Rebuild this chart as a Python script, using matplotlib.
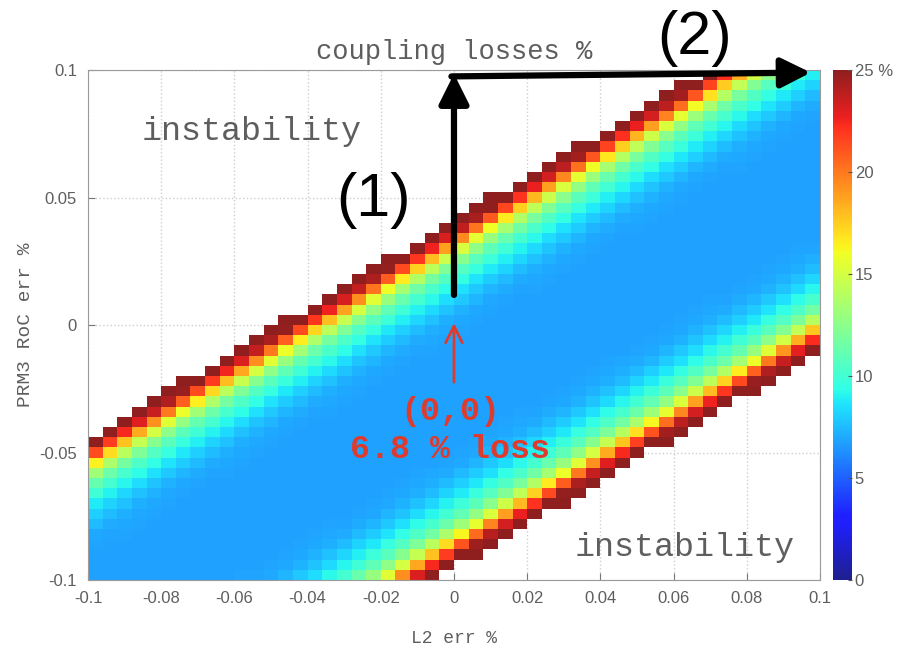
import numpy as np
import matplotlib.pyplot as plt
from matplotlib.colors import ListedColormap

# scan grid (cell edges) for L2 and PRM3 RoC errors, in %
l2_err = np.linspace(-0.1, 0.1, 51)
prm3_err = np.linspace(-0.1, 0.1, 51)

# stability boundaries (where the band is cut off)
upper_edge_x = [-0.1, 0.1]
upper_edge_y = [-0.044, 0.127]
lower_edge_x = [-0.1, 0.1]
lower_edge_y = [-0.180, -0.011]

# coupling loss vs. distance (in cells) from a stability boundary
edge_dist = [0.0, 1.0, 2.0, 3.0, 4.0, 5.0, 6.0, 7.0, 8.0, 9.0, 10.0, 12.0]
edge_loss = [25.0, 25.0, 21.0, 16.0, 13.0, 11.0, 9.8, 8.8, 8.0, 7.4, 7.0, 6.8]

x_ticks = [-0.1, -0.08, -0.06, -0.04, -0.02, 0, 0.02, 0.04, 0.06, 0.08, 0.1]
x_ticklabels = ['-0.1', '-0.08', '-0.06', '-0.04', '-0.02', '0',
                '0.02', '0.04', '0.06', '0.08', '0.1']
y_ticks = [-0.1, -0.05, 0, 0.05, 0.1]
y_ticklabels = ['-0.1', '-0.05', '0', '0.05', '0.1']
cb_ticks = [0, 5, 10, 15, 20, 25]
cb_ticklabels = ['0', '5', '10', '15', '20', '25 %']

# build the loss map from the boundaries and the edge profile
xc = (l2_err[:-1] + l2_err[1:]) / 2
yc = (prm3_err[:-1] + prm3_err[1:]) / 2
X, Y = np.meshgrid(xc, yc)
cell = prm3_err[1] - prm3_err[0]
d_up = (np.interp(X, upper_edge_x, upper_edge_y) - Y) / cell
d_lo = (Y - np.interp(X, lower_edge_x, lower_edge_y)) / cell
d = np.minimum(d_up, d_lo)
loss = np.interp(d, edge_dist, edge_loss)
loss = np.ma.masked_where(d <= 0, loss)

# slightly washed-out jet, like the screenshot
jet = plt.get_cmap('jet')(np.linspace(0, 1, 256))
jet[:, :3] = jet[:, :3] * 0.88 + 0.12
cmap = ListedColormap(jet)

mono = 'Liberation Mono'
sans = 'Liberation Sans'
grey = '#5e5e5e'

fig = plt.figure(figsize=(8.98, 6.52), dpi=100)
ax = fig.add_axes([0.098, 0.1104, 0.8151, 0.7822])
cax = fig.add_axes([0.9276, 0.1104, 0.0212, 0.7822])

mesh = ax.pcolormesh(l2_err, prm3_err, loss, cmap=cmap, vmin=0, vmax=25)
ax.set_xlim(-0.1, 0.1)
ax.set_ylim(-0.1, 0.1)
ax.set_axisbelow(True)
ax.grid(True, color='#cfcfcf', linestyle=':', linewidth=1)
ax.set_xticks(x_ticks)
ax.set_xticklabels(x_ticklabels)
ax.set_yticks(y_ticks)
ax.set_yticklabels(y_ticklabels)
ax.tick_params(direction='in', length=5, color='#777777', labelcolor=grey,
               labelsize=12, pad=8)
for lab in ax.get_xticklabels() + ax.get_yticklabels():
    lab.set_fontfamily(sans)
for s in ax.spines.values():
    s.set_color('#9a9a9a')

ax.set_title('coupling losses %', family=mono, fontsize=19.5, color=grey, pad=8)
ax.set_xlabel('L2 err %', family=mono, fontsize=13, color=grey, labelpad=17)
ax.set_ylabel('PRM3 RoC err %', family=mono, fontsize=14, color=grey, labelpad=4)

cb = fig.colorbar(mesh, cax=cax, ticks=cb_ticks)
cb.set_ticklabels(cb_ticklabels)
cb.outline.set_visible(False)
cax.tick_params(direction='in', length=3, color='#555555', labelcolor=grey,
                labelsize=12, pad=2)
for lab in cax.get_yticklabels():
    lab.set_fontfamily(sans)

ax.text(-0.0552, 0.0757, 'instability', family=mono, fontsize=24, color=grey,
        ha='center', va='center')
ax.text(0.0631, -0.0871, 'instability', family=mono, fontsize=24, color=grey,
        ha='center', va='center')

red = '#dd3b2e'
ax.text(-0.0011, -0.0341, '(0,0)', family=mono, fontsize=24, fontweight='bold',
        color=red, ha='center', va='center')
ax.text(-0.0011, -0.049, '6.8 % loss', family=mono, fontsize=24, fontweight='bold',
        color=red, ha='center', va='center')
ax.annotate('', xy=(0, 0.0008), xytext=(0, -0.0224),
            arrowprops=dict(arrowstyle='->,head_length=0.6,head_width=0.3',
                            mutation_scale=20, color=red, lw=2,
                            shrinkA=0, shrinkB=0))

ax.annotate('', xy=(0, 0.0985), xytext=(0, 0.0118), annotation_clip=False,
            arrowprops=dict(arrowstyle='-|>,head_length=0.9,head_width=0.45',
                            mutation_scale=20, color='black', lw=4.5,
                            shrinkA=0, shrinkB=0))
ax.annotate('', xy=(0.0975, 0.099), xytext=(-0.0007, 0.0975), annotation_clip=False,
            arrowprops=dict(arrowstyle='-|>,head_length=0.9,head_width=0.45',
                            mutation_scale=20, color='black', lw=4.5,
                            shrinkA=0, shrinkB=0))
ax.text(-0.0221, 0.049, '(1)', family=sans, fontsize=44, color='black',
        ha='center', va='center')
ax.text(0.0658, 0.1125, '(2)', family=sans, fontsize=44, color='black',
        ha='center', va='center', clip_on=False)

fig.savefig('out.png', dpi=100)
